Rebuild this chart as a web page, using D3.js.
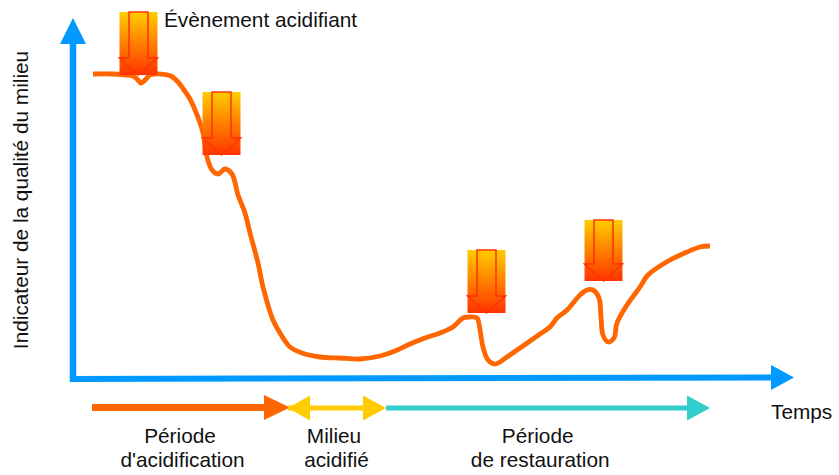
<!DOCTYPE html>
<html>
<head>
<meta charset="utf-8">
<script src="https://cdn.jsdelivr.net/npm/d3@7"></script>
<style>
  html, body { margin: 0; padding: 0; background: #fff; }
  text { font-family: "Liberation Sans", Arial, sans-serif; font-size: 20.8px; fill: #111; }
</style>
</head>
<body>
<div id="chart"></div>
<script>
// values (time, quality in arbitrary units)
const curveTime = [20, 40, 52, 60, 64, 68, 73, 77, 82, 92, 98, 105, 111, 117, 122, 126, 130, 134, 139, 145, 152, 159, 165, 172, 177, 185, 190, 200, 207, 217, 229, 247, 267, 287, 307, 322, 337, 352, 367, 380, 390, 397, 404, 407, 410, 415, 422, 434, 447, 467, 477, 484, 494, 507, 514, 520, 526, 528, 530, 535, 541, 544, 554, 567, 575, 597, 614, 627, 637];
const curveQuality = [306, 306, 305, 304, 301, 297, 301, 305, 306, 305.5, 304, 298, 290, 281, 270, 260, 247, 223, 210, 206, 211, 206, 185, 167, 147, 117, 93, 60, 47, 33, 27, 23, 22, 21, 24, 29, 36, 42, 47, 53, 62, 63, 62, 50, 33, 20, 16, 23, 32, 46, 53, 62, 70, 85, 90, 90, 82, 63, 45, 38, 42, 57, 75, 93, 105, 120, 128, 133, 134];

const eventTime = [65.5, 148.5, 413.5, 530.5];
const eventTop = [368, 288, 130, 160];
const eventBottom = [305, 225, 67, 99];

const periodStart = [19, 215, 313];
const periodEnd = [217, 313, 637];
const periodColors = ["#ff6600", "#ffcc00", "#33cccc"];
const periodLines = [["Période", "d'acidification"], ["Milieu", "acidifié"], ["Période", "de restauration"]];
const periodLabelTime = [107, 261, 464.7];

const width = 839;
const height = 475;
const blue = "#0099ff";

const xScale = d3.scaleLinear().domain([0, 700]).range([73, 773]);
const yScale = d3.scaleLinear().domain([0, 300]).range([380, 80]);

const svg = d3.select("#chart")
  .append("svg")
  .attr("width", width)
  .attr("height", height)
  .style("display", "block");

// gradient for the event boxes
const grad = svg.append("defs").append("linearGradient")
  .attr("id", "eventFill")
  .attr("x1", 0).attr("y1", 0).attr("x2", 0).attr("y2", 1);
grad.append("stop").attr("offset", "0%").attr("stop-color", "#ffcc00");
grad.append("stop").attr("offset", "100%").attr("stop-color", "#ff3300");

// head: triangle with tip at (tipX, tipY), pointing along dir
const triangle = (tipX, tipY, length, halfWidth, dirX, dirY) => {
  const bx = tipX - dirX * length;
  const by = tipY - dirY * length;
  return `M${tipX},${tipY}L${bx - dirY * halfWidth},${by + dirX * halfWidth}L${bx + dirY * halfWidth},${by - dirX * halfWidth}Z`;
};

// axes
svg.append("line")
  .attr("x1", xScale(0)).attr("x2", xScale(0))
  .attr("y1", yScale(-2)).attr("y2", 40)
  .attr("stroke", blue).attr("stroke-width", 6.5);
svg.append("path")
  .attr("d", triangle(xScale(0), 18, 26, 13, 0, -1))
  .attr("fill", blue);
svg.append("line")
  .attr("x1", 70).attr("x2", 775)
  .attr("y1", yScale(1)).attr("y2", yScale(2.5))
  .attr("stroke", blue).attr("stroke-width", 6);
svg.append("path")
  .attr("d", triangle(794, 377.5, 23, 12.5, 1, 0))
  .attr("fill", blue);

// quality curve
const curve = d3.line()
  .x(d => xScale(d[0]))
  .y(d => yScale(d[1]))
  .curve(d3.curveCatmullRom.alpha(0.5));

svg.append("path")
  .datum(curveTime.map((t, i) => [t, curveQuality[i]]))
  .attr("d", curve)
  .attr("fill", "none")
  .attr("stroke", "#ff6600")
  .attr("stroke-width", 4.8)
  .attr("stroke-linejoin", "round")
  .attr("stroke-linecap", "butt");

// acidifying events
const boxW = 38;
const eventG = svg.selectAll(".event")
  .data(eventTime.map((t, i) => ({ t, top: eventTop[i], bottom: eventBottom[i] })))
  .join("g")
  .attr("class", "event");

eventG.append("rect")
  .attr("x", d => xScale(d.t) - boxW / 2)
  .attr("y", d => yScale(d.top))
  .attr("width", boxW)
  .attr("height", d => yScale(d.bottom) - yScale(d.top))
  .attr("fill", "url(#eventFill)");

eventG.append("path")
  .attr("d", d => {
    const cx = xScale(d.t);
    const top = yScale(d.top);
    const tip = yScale(d.bottom);
    const neck = tip - 17;
    return `M${cx - 9.5},${top}H${cx + 9.5}V${neck}H${cx + boxW / 2}L${cx},${tip}L${cx - boxW / 2},${neck}H${cx - 9.5}Z`;
  })
  .attr("fill", "none")
  .attr("stroke", "#ff3300")
  .attr("stroke-width", 1.5);

// periods under the axis
const periodY = 408;
const periodG = svg.selectAll(".period")
  .data(periodStart.map((s, i) => ({ s, e: periodEnd[i], color: periodColors[i], i })))
  .join("g")
  .attr("class", "period");

periodG.append("line")
  .attr("x1", d => xScale(d.s))
  .attr("x2", d => xScale(d.e) - 10)
  .attr("y1", d => d.i === 0 ? periodY - 0.5 : periodY)
  .attr("y2", d => d.i === 0 ? periodY - 0.5 : periodY)
  .attr("stroke", d => d.color)
  .attr("stroke-width", d => d.i === 0 ? 7 : 5);

periodG.append("path")
  .attr("d", d => d.i === 0
    ? triangle(xScale(d.e), periodY - 0.5, 26, 12.5, 1, 0)
    : triangle(xScale(d.e), periodY, 23, 12.5, 1, 0))
  .attr("fill", d => d.color);

// the yellow arrow has a second head on its left
periodG.filter(d => d.i === 1).append("path")
  .attr("d", d => triangle(xScale(d.s), periodY, 22, 12.5, -1, 0))
  .attr("fill", d => d.color);

// period labels
periodLines.forEach((lines, i) => {
  const offsets = [0, 2.5];
  lines.forEach((line, j) => {
    svg.append("text")
      .attr("x", xScale(periodLabelTime[i]) + offsets[j])
      .attr("y", 443 + j * 24)
      .attr("text-anchor", "middle")
      .text(line);
  });
});

// other labels
svg.append("text")
  .attr("x", 164).attr("y", 27)
  .text("Évènement acidifiant");

svg.append("text")
  .attr("x", 771).attr("y", 419)
  .text("Temps");

svg.append("text")
  .attr("transform", "translate(28,200) rotate(-90)")
  .attr("text-anchor", "middle")
  .text("Indicateur de la qualité du milieu");
</script>
</body>
</html>
